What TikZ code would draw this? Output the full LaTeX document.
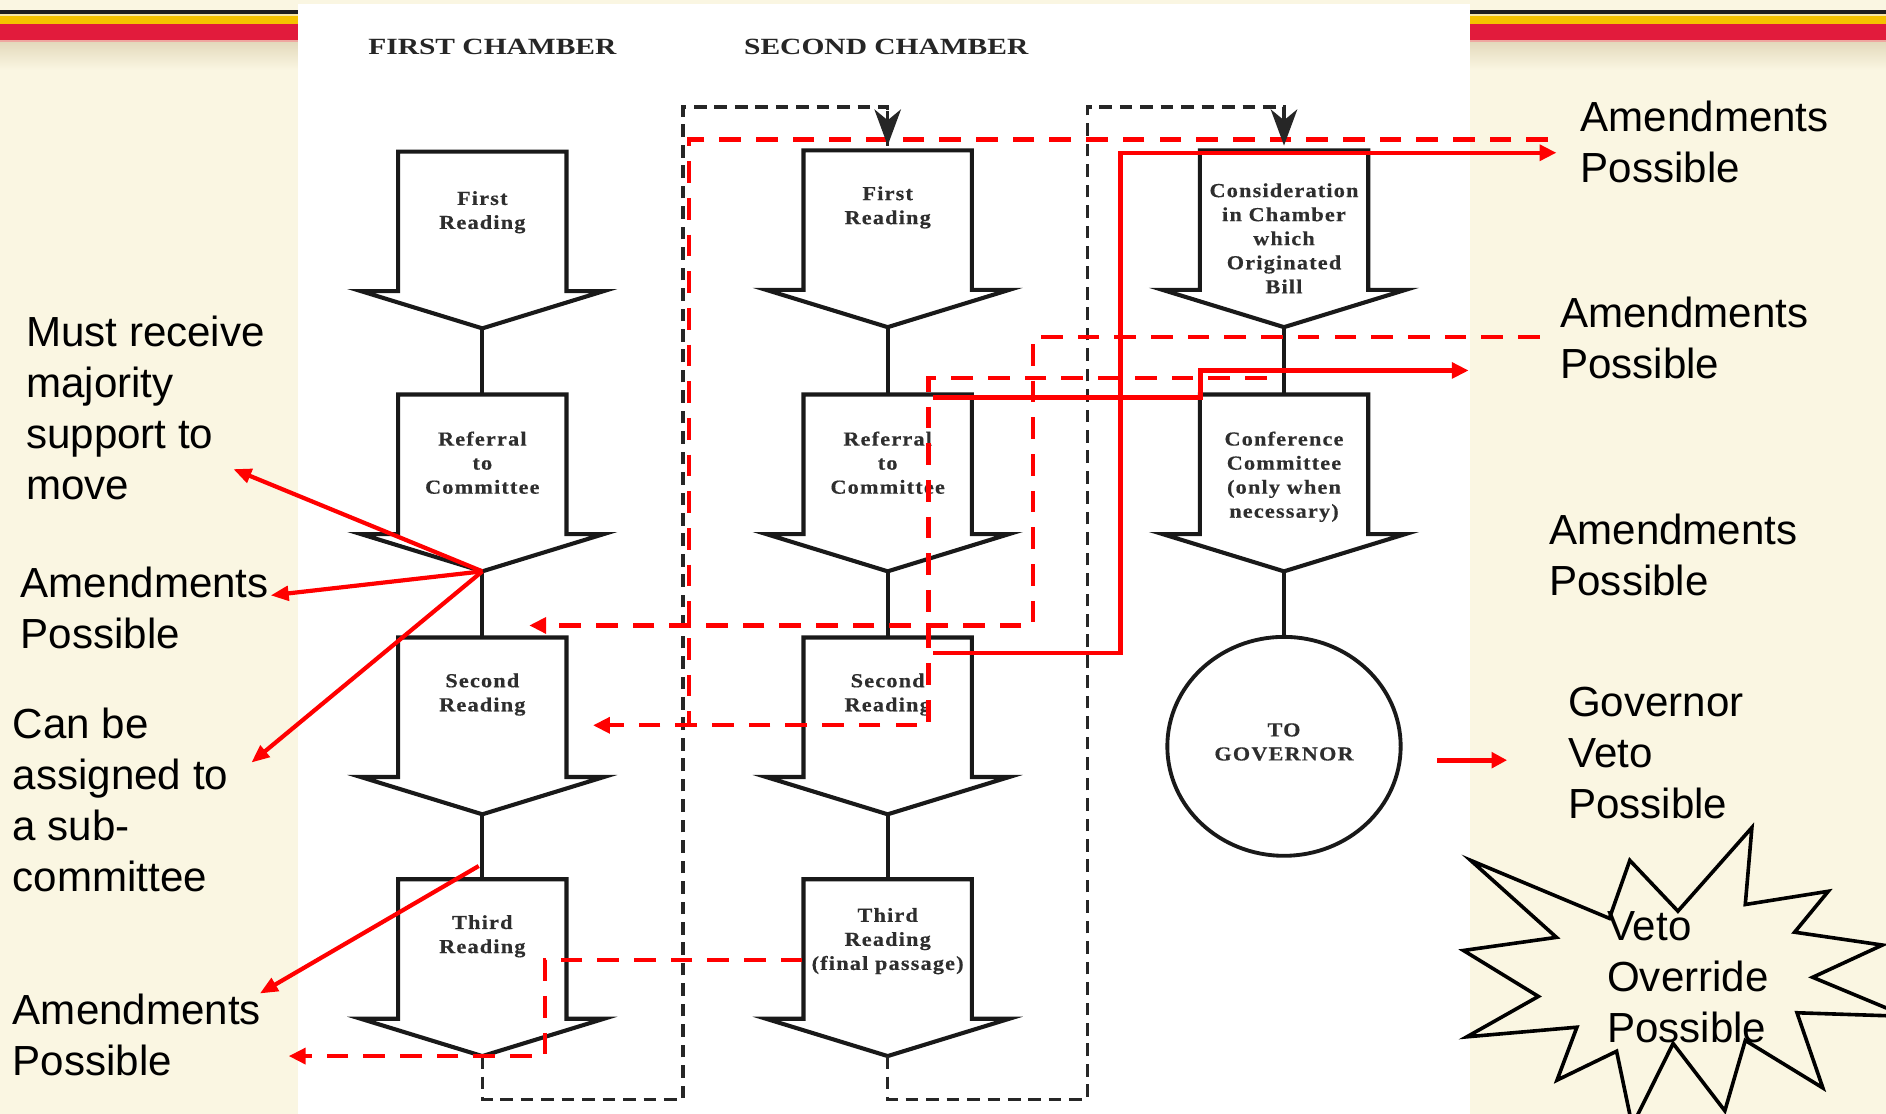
\documentclass[tikz,border=0pt]{standalone}
\usepackage{fontspec}
\setmainfont{Liberation Sans}
\newfontfamily\boxfont[FakeStretch=1.12,LetterSpace=6.0,FakeBold=0.4]{Liberation Serif}
\newfontfamily\headfont[FakeStretch=1.27]{Liberation Serif}
\usetikzlibrary{arrows.meta,shapes.geometric}
\definecolor{cream}{HTML}{FAF6E2}
\definecolor{beige}{HTML}{E4DABD}
\definecolor{stripeyellow}{HTML}{F5C300}
\definecolor{yellowlight}{HTML}{F6E7A8}
\definecolor{stripered}{HTML}{E21B3C}
\definecolor{stripepink}{HTML}{EFA6A0}
\definecolor{boxgray}{HTML}{2E2E2E}
\tikzset{
  boxline/.style={line width=3.4pt, draw=black!90, fill=white, line join=miter},
  stemline/.style={line width=3.2pt, draw=black!90},
  loopline/.style={line width=3pt, draw=black!85, dash pattern=on 10.5pt off 6.5pt},
  loophead/.style={line width=3pt, draw=black!85, fill=black!85, -{Stealth[length=30pt,width=22pt,inset=9pt]}},
  redsolid/.style={line width=3.5pt, draw=red},
  reddash/.style={line width=3.6pt, draw=red, dash pattern=on 18pt off 12.5pt},
  redtip/.style={-{Triangle[length=14pt,width=13pt]}},
  labeltip/.style={-{Triangle[length=15pt,width=12pt]}},
  boxtext/.style={font={\boxfont\bfseries\fontsize{16.5}{20}\selectfont}, text=boxgray, align=center, inner sep=0pt, anchor=north},
  bigtext/.style={font={\fontsize{35}{42.4}\selectfont}, text=black, align=left, inner sep=0pt, anchor=north west},
  headtext/.style={font={\headfont\bfseries\fontsize{19.3}{23}\selectfont}, text=black!85, inner sep=0pt, anchor=base west},
  pics/barrow/.style={code={
    \draw[boxline] (-70,0) -- (70,0) -- (70,116) -- (101,116) -- (0,147) -- (-101,116) -- (-70,116) -- cycle;
    \coordinate (-top) at (0,0);
    \coordinate (-tip) at (0,147);
  }}
}
\begin{document}
\begin{tikzpicture}[x=1pt,y=-1pt]
\useasboundingbox (0,0) rectangle (1568,926.1);
% background and top stripes
\fill[cream] (0,0) rectangle (1568,926.1);
\fill[black!88] (0,8.3) rectangle (1568,11.6);
\fill[yellowlight] (0,11.6) rectangle (1568,13.3);
\fill[stripeyellow] (0,13.3) rectangle (1568,19.6);
\fill[stripered] (0,19.6) rectangle (1568,33);
\fill[stripepink] (0,33) rectangle (1568,35.5);
\shade[top color=beige, bottom color=cream] (0,35.5) rectangle (1568,58);
% white panel
\fill[white] (248,3.3) rectangle (1222,926.1);

% headings
\node[headtext] (h1) at (306,45.2) {FIRST CHAMBER};
\node[headtext] (h2) at (618.5,45.2) {SECOND CHAMBER};

% block arrows
\pic (fr1) at (401,126) {barrow};
\pic (rf1) at (401,328) {barrow};
\pic (sr1) at (401,530) {barrow};
\pic (tr1) at (401,731) {barrow};
\pic (fr2) at (738,125) {barrow};
\pic (rf2) at (738,328) {barrow};
\pic (sr2) at (738,530) {barrow};
\pic (tr2) at (738,731) {barrow};
\pic (cc3) at (1067.5,125) {barrow};
\pic (cf3) at (1067.5,328) {barrow};
\node[ellipse, draw=black!90, line width=3.2pt, fill=white, minimum width=194pt, minimum height=182pt, inner sep=0pt] (gov) at (1067.5,620.5) {};

% stems
\draw[stemline] (fr1-tip) -- (rf1-top);
\draw[stemline] (rf1-tip) -- (sr1-top);
\draw[stemline] (sr1-tip) -- (tr1-top);
\draw[stemline] (fr2-tip) -- (rf2-top);
\draw[stemline] (rf2-tip) -- (sr2-top);
\draw[stemline] (sr2-tip) -- (tr2-top);
\draw[stemline] (cc3-tip) -- (cf3-top);
\draw[stemline] (cf3-tip) -- (gov.north);

% box texts
\node[boxtext] (t1) at (401,158.7) {First\\Reading};
\node[boxtext] (t2) at (401,358.6) {Referral\\to\\Committee};
\node[boxtext] (t3) at (401,559.7) {Second\\Reading};
\node[boxtext] (t4) at (401,760.7) {Third\\Reading};
\node[boxtext] (t5) at (738,154.7) {First\\Reading};
\node[boxtext] (t6) at (738,358.6) {Referral\\to\\Committee};
\node[boxtext] (t7) at (738,559.7) {Second\\Reading};
\node[boxtext] (t8) at (738,754.7) {Third\\Reading\\(final passage)};
\node[boxtext] (t9) at (1067.5,152.2) {Consideration\\in Chamber\\which\\Originated\\Bill};
\node[boxtext] (t10) at (1067.5,358.6) {Conference\\Committee\\(only when\\necessary)};
\node[boxtext] (t11) at (1067.5,601.1) {TO\\GOVERNOR};

% black dashed loops
\coordinate (l1a) at (401,914);
\coordinate (l1b) at (568,914);
\coordinate (l1c) at (568,89);
\coordinate (l1d) at (738,89);
\coordinate (l1e) at (738,121);
\coordinate (l2a) at (738,914);
\coordinate (l2b) at (904,914);
\coordinate (l2c) at (904,89);
\coordinate (l2d) at (1067.5,89);
\coordinate (l2e) at (1067.5,121);
\draw[loopline] (tr1-tip) -- (l1a) -- (l1b) -- (l1c) -- (l1d) -- (l1e);
\draw[loopline] (tr2-tip) -- (l2a) -- (l2b) -- (l2c) -- (l2d) -- (l2e);

% red amendment paths
\coordinate (p1a) at (1053,314);
\coordinate (p1b) at (772,314);
\coordinate (p1c) at (772,603);
\coordinate (p1d) at (493,603);
\coordinate (p2a) at (1287,116);
\coordinate (p2b) at (573,116);
\coordinate (p2c) at (573,603);
\coordinate (p3a) at (1280,280);
\coordinate (p3b) at (859,280);
\coordinate (p3c) at (859,520);
\coordinate (p3d) at (440,520);
\coordinate (p4a) at (667,798);
\coordinate (p4b) at (453,798);
\coordinate (p4c) at (453,878);
\coordinate (p4d) at (240,878);
\coordinate (s1a) at (776,543);
\coordinate (s1b) at (931.5,543);
\coordinate (s1c) at (931.5,127);
\coordinate (s1d) at (1294,127);
\coordinate (s2a) at (776,330.5);
\coordinate (s2b) at (998,330.5);
\coordinate (s2c) at (998,308);
\coordinate (s2d) at (1221,308);
\draw[reddash] (p2a) -- (p2b) -- (p2c);
\draw[reddash, redtip] (p1a) -- (p1b) -- (p1c) -- (p1d);
\draw[reddash, redtip] (p3a) -- (p3b) -- (p3c) -- (p3d);
\draw[reddash, redtip] (p4a) -- (p4b) -- (p4c) -- (p4d);
\draw[redsolid, redtip] (s1a) -- (s1b) -- (s1c) -- (s1d);
\draw[redsolid, redtip] (s2a) -- (s2b) -- (s2c) -- (s2d);

% black arrowheads of loops
\draw[loophead] (738,92) -- (l1e);
\draw[loophead] (1067.5,92) -- (l2e);

% left labels
\node[bigtext] (must) at (21.6,262.5) {Must receive\\majority\\support to\\move};
\node[bigtext] (am1) at (17,471) {Amendments\\Possible};
\node[bigtext] (canbe) at (10.5,588) {Can be\\assigned to\\a sub-\\committee};
\node[bigtext] (am2) at (10.5,826.6) {Amendments\\Possible};
\coordinate (e1) at (194,390);
\coordinate (e2) at (225,495);
\coordinate (e3) at (209,634);
\coordinate (e4s) at (398,720);
\coordinate (e4) at (216,826);
\draw[redsolid, labeltip] (rf1-tip) -- (e1);
\draw[redsolid, labeltip] (rf1-tip) -- (e2);
\draw[redsolid, labeltip] (rf1-tip) -- (e3);
\draw[redsolid, labeltip] (e4s) -- (e4);

% right labels
\node[bigtext] (ar1) at (1314,83.8) {Amendments\\Possible};
\node[bigtext] (ar2) at (1297,247) {Amendments\\Possible};
\node[bigtext] (ar3) at (1288,427.4) {Amendments\\Possible};
\node[bigtext] (veto) at (1303.6,570.7) {Governor\\Veto\\Possible};
\coordinate (g1) at (1195,632);
\coordinate (g2) at (1253,632);
\draw[line width=4pt, draw=red, -{Triangle[length=13pt,width=13pt]}] (g1) -- (g2);

% starburst
\begin{scope}
\clip (0,0) rectangle (1568,926.1);
\draw[line width=3pt, line join=miter] (1222.7,715.3) -- (1338,763.5) -- (1355,715.3) -- (1395,757.5) -- (1456.5,688) -- (1451,752) -- (1520,741) -- (1492,775) -- (1565,785.7) -- (1507,812.5) -- (1585,845) -- (1494,842) -- (1515.5,904.5) -- (1451,865) -- (1434,923.5) -- (1391,867.5) -- (1357,936) -- (1344,874) -- (1294.5,898) -- (1311,854) -- (1219.5,862) -- (1279,828.4) -- (1216.7,790.2) -- (1294,779.3) -- cycle;
\end{scope}
\node[bigtext] (override) at (1336,758) {Veto\\Override\\Possible};
\end{tikzpicture}
\end{document}
